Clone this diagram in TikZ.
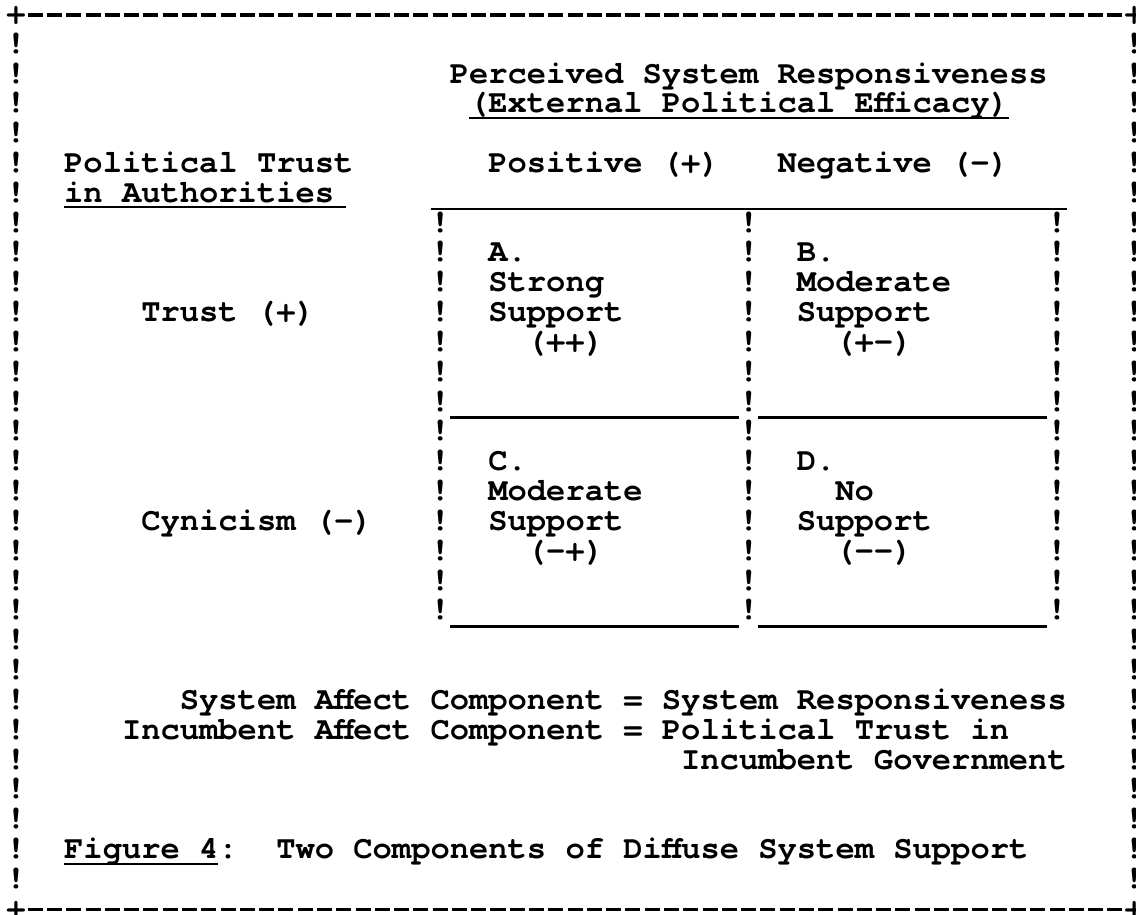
\documentclass[tikz,border=0pt]{standalone}
\usepackage{fontspec}
\newfontfamily\twfont{TeX Gyre Cursor}
\usetikzlibrary{calc}
% typewriter face: every character and every space is one column wide
\newcommand\typeface{\twfont\bfseries\fontsize{16.07pt}{15pt}\selectfont
  \spaceskip=9.64pt\relax\xspaceskip=9.64pt\relax}
\begin{document}
% One x unit is one typewriter column, one y unit is one typed line (downwards).
\begin{tikzpicture}[x=9.64pt, y=-14.915pt,
  tw/.style={font=\typeface, anchor=base west, inner sep=0pt, outer sep=0pt},
  bang/.style={font=\typeface, anchor=base, inner sep=0pt, outer sep=0pt},
  rule/.style={line width=1.3pt, line cap=butt},
  uline/.style={line width=1.1pt, line cap=butt},
  dashrule/.style={line width=1.6pt, line cap=butt, dash pattern=on 7.52pt off 2.12pt}]
\useasboundingbox (-0.8299,-0.5028) rectangle (58.0913,30.1705);

% ---- outer frame: corners, dashed top and bottom, columns of "!" ----
\coordinate (tl) at (0,0);
\coordinate (tr) at (58,0);
\coordinate (bl) at (0,30);
\coordinate (br) at (58,30);
\node[bang] (ctl) at (0,0.28) {+};
\node[bang] (ctr) at (58,0.28) {+};
\node[bang] (cbl) at (0,30.28) {+};
\node[bang] (cbr) at (58,30.28) {+};
\draw[dashrule] ($(tl)+(0.61,0)$) -- ($(tr)+(-0.61,0)$);
\draw[dashrule] ($(bl)+(0.61,0)$) -- ($(br)+(-0.61,0)$);
\foreach \k in {1,...,29} {
  \node[bang] (lb\k) at (0,\k+0.28) {!};
  \node[bang] (rb\k) at (58,\k+0.28) {!};
}

% ---- column heading ----
\node[tw] (psr) at (22.5,2.28) {Perceived System Responsiveness};
\node[tw] (epe) at (23.5,3.28) {(External Political Efficacy)};
\draw[uline] ($(epe.base west)+(0,0.17)$) -- ($(epe.base east)+(0,0.17)$);
\node[tw] (pos) at (24.5,5.28) {Positive (+)};
\node[tw] (neg) at (39.5,5.28) {Negative (-)};

% ---- row heading ----
\node[tw] (ptr) at (2.5,5.28) {Political Trust};
\node[tw] (aut) at (2.5,6.28) {in Authorities};
\draw[uline] ($(aut.base west)+(0,0.17)$) -- ($(aut.base east)+(0.6,0.17)$);
\node[tw] (trp) at (6.5,10.28) {Trust (+)};
\node[tw] (cyn) at (6.5,17.28) {Cynicism (-)};

% ---- the 2x2 table ----
\draw[rule] (21.5,6.5) -- (54.5,6.5);
\foreach \k in {7,...,20} {
  \node[bang] (ga\k) at (22,\k+0.28) {!};
  \node[bang] (gb\k) at (38,\k+0.28) {!};
  \node[bang] (gc\k) at (54,\k+0.28) {!};
}
\foreach \r in {13.5,20.5} {
  \draw[rule] (22.5,\r) -- (37.5,\r);
  \draw[rule] (38.5,\r) -- (53.5,\r);
}

% cell A
\node[tw] (a1) at (24.5,8.28) {A.};
\node[tw] (a2) at (24.5,9.28) {Strong};
\node[tw] (a3) at (24.5,10.28) {Support};
\node[tw] (a4) at (26.5,11.28) {(++)};
% cell B
\node[tw] (b1) at (40.5,8.28) {B.};
\node[tw] (b2) at (40.5,9.28) {Moderate};
\node[tw] (b3) at (40.5,10.28) {Support};
\node[tw] (b4) at (42.5,11.28) {(+-)};
% cell C
\node[tw] (c1) at (24.5,15.28) {C.};
\node[tw] (c2) at (24.5,16.28) {Moderate};
\node[tw] (c3) at (24.5,17.28) {Support};
\node[tw] (c4) at (26.5,18.28) {(-+)};
% cell D
\node[tw] (d1) at (40.5,15.28) {D.};
\node[tw] (d2) at (42.5,16.28) {No};
\node[tw] (d3) at (40.5,17.28) {Support};
\node[tw] (d4) at (42.5,18.28) {(--)};

% ---- definitions ----
\node[tw] (sac) at (8.5,23.28) {System Affect Component = System Responsiveness};
\node[tw] (iac) at (5.5,24.28) {Incumbent Affect Component = Political Trust in};
\node[tw] (igv) at (34.5,25.28) {Incumbent Government};

% ---- caption ----
\node[tw] (fig) at (2.5,28.28) {Figure 4};
\node[tw] (cap) at (fig.base east) {:\ \ Two Components of Diffuse System Support};
\draw[uline] ($(fig.base west)+(0,0.17)$) -- ($(fig.base east)+(0,0.17)$);
\end{tikzpicture}
\end{document}
